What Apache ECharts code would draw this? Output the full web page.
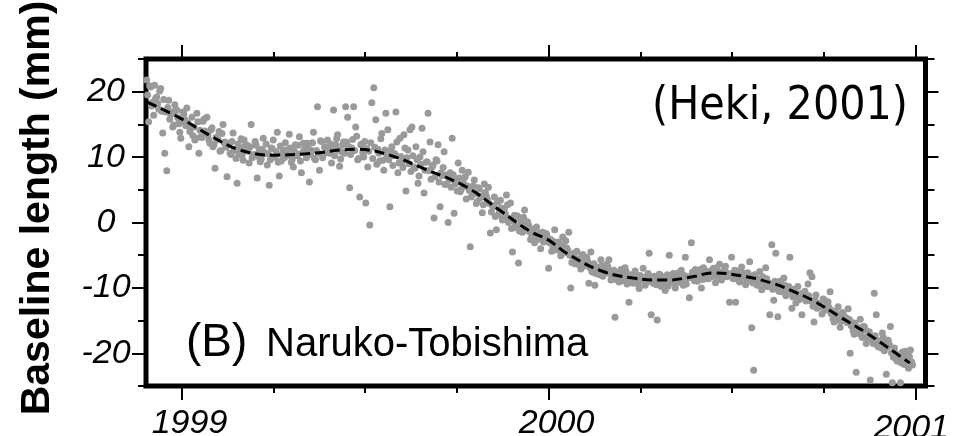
<!DOCTYPE html>
<html>
<head>
<meta charset="utf-8">
<script src="https://cdn.jsdelivr.net/npm/echarts@6/dist/echarts.min.js"></script>
<style>
  html, body { margin: 0; padding: 0; background: #fff; }
  #chart { width: 961px; height: 436px; }
</style>
</head>
<body>
<div id="chart"></div>
<script>
// daily solutions from late Nov 1998 (decimal years); even and odd days kept apart
const obsStart = 1998.905;
const obsEven = [
  21.8, 15.4, 20.7, 18.4, 21.0, 19.2, 17.3, 20.5, 13.7, 10.6,
  7.9, 18.7, 16.5, 14.6, 18.0, 17.2, 15.1, 12.9, 16.9, 15.7,
  17.5, 11.6, 14.4, 13.3, 12.6, 16.7, 10.6, 13.1, 15.5, 14.0,
  16.1, 12.6, 14.2, 11.6, 8.3, 12.6, 13.9, 11.0, 15.0, 12.3,
  7.0, 12.1, 10.4, 13.7, 11.0, 6.0, 10.6, 12.8, 9.5, 11.7,
  11.8, 9.1, 15.0, 10.3, 12.4, 6.8, 11.1, 9.7, 12.9, 10.5,
  8.8, 5.7, 11.4, 12.6, 10.0, 13.8, 7.1, 9.4, 11.0, 12.2,
  10.8, 13.5, 9.2, 8.5, 11.9, 10.2, 13.1, 7.6, 12.1, 10.6,
  12.1, 6.2, 11.0, 13.8, 9.6, 17.7, 8.0, 12.4, 10.4, 11.6,
  12.6, 10.6, 9.1, 17.2, 11.9, 13.4, 8.6, 10.8, 12.3, 17.7,
  16.1, 5.3, 11.4, 17.7, 14.6, 9.6, 3.9, 12.0, 10.0, 3.0,
  8.5, -0.4, 18.3, 20.6, 15.7, 11.2, 9.4, 13.6, 8.0, 16.7,
  14.2, 2.4, 11.6, 10.2, 16.9, 7.6, 12.9, 9.1, 13.4, 4.8,
  11.1, 14.2, 14.6, 8.5, 11.6, 6.0, 10.0, 14.4, 4.5, 9.2,
  16.7, 12.3, 8.5, 0.7, 9.6, 11.9, 2.4, 7.2, 10.8, 5.9,
  0.0, 7.6, 12.9, 1.4, 6.4, 9.1, 4.7, 8.0, 5.5, 3.6,
  7.7, -3.7, 4.6, 6.5, 2.9, 5.3, 3.8, 1.5, 5.9, 4.0,
  5.4, -1.6, 2.6, 3.9, -1.1, 1.2, 3.4, 0.4, 2.1, 4.2,
  0.0, 3.0, -4.5, 1.1, -0.8, -6.2, 0.5, -1.5, 1.9, -0.3,
  -0.4, -2.6, -1.2, -3.1, -0.7, -2.2, -4.0, -1.5, -2.9, -1.8,
  -7.0, -2.6, -3.5, -1.1, -4.2, -3.0, -5.1, -2.2, -4.6, -3.9,
  -1.5, -10.0, -5.2, -6.3, -4.4, -5.9, -7.1, -4.9, -6.0, -5.4,
  -9.3, -4.5, -7.6, -9.6, -6.8, -7.9, -5.7, -8.2, -7.0, -6.4,
  -5.7, -8.8, -7.5, -14.5, -8.3, -9.1, -7.2, -8.6, -6.9, -9.4,
  -12.2, -8.0, -9.3, -7.4, -8.8, -10.1, -8.5, -7.0, -9.6, -8.2,
  -4.7, -14.1, -9.3, -8.6, -14.9, -7.9, -9.8, -8.4, -10.4, -8.0,
  -5.0, -8.9, -7.8, -10.0, -9.2, -8.1, -7.3, -9.6, -5.3, -8.5,
  -11.5, -3.1, -8.4, -7.2, -9.0, -7.7, -10.0, -6.9, -8.6, -7.5,
  -5.7, -8.3, -7.0, -9.2, -7.5, -6.4, -8.8, -7.9, -6.7, -8.1,
  -12.2, -5.3, -8.6, -12.2, -7.4, -9.1, -6.8, -8.0, -9.5, -7.7,
  -6.0, -16.1, -22.6, -8.4, -9.6, -7.5, -10.3, -8.9, -6.9, -9.8,
  -14.1, -3.4, -11.9, -4.7, -14.4, -9.0, -10.6, -8.5, -11.2, -9.9,
  -5.3, -13.1, -10.2, -12.3, -9.8, -11.6, -14.1, -10.7, -12.0, -9.4,
  -7.7, -8.3, -15.2, -11.1, -13.0, -12.4, -14.0, -11.8, -13.3, -12.1,
  -10.6, -13.5, -15.2, -14.1, -12.9, -16.0, -13.8, -15.0, -14.6, -13.2,
  -20.0, -15.3, -17.1, -22.9, -16.5, -14.8, -17.6, -15.9, -18.5, -16.8,
  -24.1, -17.4, -10.8, -14.1, -19.0, -18.3, -16.9, -19.6, -23.2, -18.0,
  -15.9, -24.5, -19.2, -21.0, -20.4, -24.5, -19.8, -21.7, -20.1, -22.3,
  -19.5, -21.8
];
const obsOdd = [
  19.5, 20.9, 17.8, 16.4, 19.0, 18.2, 20.1, 17.0, 18.8, 16.9,
  17.6, 15.8, 16.9, 14.9, 17.1, 16.0, 13.8, 15.4, 16.6, 14.8,
  15.2, 13.9, 16.1, 14.6, 12.9, 15.4, 14.1, 13.0, 15.8, 13.6,
  13.4, 12.1, 14.5, 11.9, 13.0, 12.7, 10.9, 13.6, 12.2, 11.5,
  11.9, 10.6, 12.4, 11.2, 9.8, 12.0, 11.4, 10.3, 12.6, 11.0,
  10.9, 11.6, 9.9, 10.4, 11.8, 10.1, 9.3, 11.2, 10.7, 12.0,
  10.5, 9.6, 11.3, 10.0, 10.8, 9.2, 11.7, 10.4, 9.9, 11.1,
  10.2, 11.4, 9.7, 10.9, 10.5, 11.8, 9.4, 10.7, 11.2, 9.9,
  11.3, 10.4, 12.2, 9.8, 11.0, 10.6, 12.5, 9.9, 11.5, 10.8,
  10.9, 12.0, 11.4, 10.2, 12.8, 11.1, 9.7, 11.9, 10.6, 12.3,
  11.6, 10.4, 12.7, 11.0, 13.2, 9.8, 11.9, 10.7, 12.4, 11.3,
  10.9, 12.2, 9.8, 11.5, 8.9, 10.6, 12.8, 9.5, 11.1, 10.2,
  9.6, 11.0, 8.7, 10.5, 12.3, 9.1, 10.1, 8.4, 11.4, 9.9,
  9.0, 7.8, 10.2, 8.3, 9.6, 7.1, 8.9, 10.8, 8.0, 9.3,
  7.9, 6.6, 8.8, 7.0, 9.4, 6.2, 7.6, 8.4, 5.8, 7.3,
  6.5, 5.4, 7.3, 5.9, 4.8, 6.8, 5.1, 6.2, 7.0, 5.6,
  4.9, 3.9, 5.6, 4.4, 3.2, 5.1, 4.0, 2.7, 4.6, 3.5,
  2.9, 1.6, 2.4, 0.9, 3.1, 1.8, 2.2, 0.6, 1.3, 2.7,
  0.6, -0.9, 0.3, -0.4, 1.0, -1.3, -0.2, 0.8, -0.7, 0.1,
  -1.4, -2.3, -1.0, -2.0, -2.6, -1.6, -2.1, -3.0, -1.7, -2.4,
  -3.1, -4.4, -2.9, -3.6, -4.0, -3.3, -4.8, -3.7, -2.8, -4.2,
  -5.0, -6.1, -4.7, -5.5, -6.4, -5.8, -5.1, -6.7, -5.3, -6.0,
  -6.9, -7.5, -6.3, -7.8, -7.1, -8.0, -6.6, -7.4, -7.7, -6.8,
  -7.8, -8.4, -7.3, -8.7, -8.0, -7.6, -8.9, -8.2, -7.5, -8.5,
  -8.3, -9.0, -7.9, -8.7, -9.4, -8.1, -8.8, -8.4, -9.2, -7.8,
  -8.5, -9.1, -8.2, -9.5, -8.7, -8.0, -9.3, -8.9, -8.4, -9.7,
  -8.8, -8.0, -9.2, -8.4, -7.7, -9.0, -8.6, -8.1, -9.4, -8.3,
  -8.4, -7.6, -8.9, -7.9, -8.3, -7.2, -8.7, -8.0, -7.5, -8.6,
  -7.4, -8.2, -7.7, -6.9, -8.5, -7.6, -8.0, -7.1, -8.3, -7.8,
  -7.9, -8.5, -7.3, -8.2, -8.8, -7.6, -8.4, -7.8, -8.9, -8.0,
  -8.5, -9.2, -8.0, -9.5, -8.7, -9.0, -8.3, -9.8, -8.6, -9.3,
  -9.4, -10.2, -9.0, -9.9, -10.5, -9.3, -10.0, -9.6, -10.8, -9.8,
  -10.6, -11.4, -10.3, -11.1, -11.8, -10.9, -11.5, -10.5, -11.7, -11.2,
  -12.0, -12.8, -11.9, -13.1, -12.4, -12.9, -11.7, -13.4, -12.6, -13.0,
  -13.9, -14.7, -13.6, -14.9, -14.2, -15.1, -13.8, -14.5, -15.3, -14.8,
  -15.8, -16.6, -15.4, -16.9, -16.1, -17.2, -15.9, -16.4, -17.5, -16.7,
  -17.8, -18.5, -17.3, -18.8, -18.1, -19.2, -17.6, -18.4, -19.0, -18.7,
  -19.9, -20.6, -20.0, -21.2, -20.3, -21.5, -20.8, -19.7, -21.0, -20.5,
  -21.3
];

// fitted curve
const trendYears = [1998.907, 1998.995, 1999.084, 1999.158, 1999.248, 1999.341, 1999.477, 1999.567,
  1999.657, 1999.777, 1999.866, 1999.948, 2000.0, 2000.049, 2000.139, 2000.229, 2000.322, 2000.392,
  2000.447, 2000.540, 2000.610, 2000.657, 2000.719, 2000.793, 2000.866, 2000.921, 2000.984];
const trendValues = [18.4, 16.0, 13.1, 11.1, 10.3, 10.5, 11.2, 10.3, 8.3, 5.4, 1.9, -1.3, -2.7,
  -4.7, -7.3, -8.5, -8.8, -8.3, -7.7, -8.3, -9.3, -10.3, -11.9, -14.4, -16.9, -19.0, -21.5];

const yearTicks = [1999, 2000, 2001];
const quarterTicks = [1999.25, 1999.5, 1999.75, 2000.25, 2000.5, 2000.75];
const yLabelTicks = [-20, -10, 0, 10, 20];
const yMinorTicks = [-25, -15, -5, 5, 15, 25];

const xMin = 1998.9033, xMax = 2001.0267;
const font = "'Liberation Sans', Arial, sans-serif";

const obsData = [];
obsEven.forEach((v, i) => obsData.push([obsStart + (2 * i) / 365.25, v]));
obsOdd.forEach((v, i) => obsData.push([obsStart + (2 * i + 1) / 365.25, v]));
const trendData = trendYears.map((t, i) => [t, trendValues[i]]);

const labelFont = { fontFamily: font, fontStyle: "italic", fontSize: 34, color: "#000" };

function xAx(pos, ticks, len, withLabels) {
  return {
    type: "value", position: pos, min: xMin, max: xMax,
    axisLine: { show: false, onZero: false }, splitLine: { show: false },
    axisTick: { show: true, inside: false, length: len, customValues: ticks,
      lineStyle: { color: "#000", width: 2 } },
    axisLabel: withLabels ? {
      show: true, customValues: ticks, margin: 21, ...labelFont,
      // the last year label sits a little left and lower in the original
      formatter: v => (Math.round(v) === 2001 ? "{last|2001}" : "{yr|" + Math.round(v) + "}"),
      rich: {
        yr: { ...labelFont, padding: [0, 0, 0, 16] },
        last: { ...labelFont, padding: [5, 9, 0, 0] }
      }
    } : { show: false }
  };
}
function yAx(pos, ticks, len, withLabels) {
  return {
    type: "value", position: pos, min: -25, max: 25,
    axisLine: { show: false, onZero: false }, splitLine: { show: false },
    axisTick: { show: true, inside: false, length: len, customValues: ticks,
      lineStyle: { color: "#000", width: 2 } },
    axisLabel: withLabels ? {
      show: true, customValues: ticks, margin: 40, align: "center", ...labelFont,
      formatter: v => String(v)
    } : { show: false }
  };
}

const chart = echarts.init(document.getElementById("chart"), null, { renderer: "canvas" });
chart.setOption({
  animation: false,
  backgroundColor: "#fff",
  grid: { left: 146, right: 35.5, top: 59, bottom: 50, show: true, outerBoundsMode: "none",
    containLabel: false, borderColor: "#000", borderWidth: 5, backgroundColor: "transparent" },
  xAxis: [
    xAx("bottom", yearTicks, 14, true),
    xAx("bottom", quarterTicks, 7, false),
    xAx("top", yearTicks, 14, false),
    xAx("top", quarterTicks, 7, false)
  ],
  yAxis: [
    yAx("left", yLabelTicks, 14, true),
    yAx("left", yMinorTicks, 8, false),
    yAx("right", yLabelTicks, 13, false),
    yAx("right", yMinorTicks, 9, false)
  ],
  graphic: [
    { type: "text", x: 38, y: 208, rotation: Math.PI / 2,
      style: { text: "Baseline length (mm)", fontFamily: font, fontWeight: "bold", fontSize: 41,
        fill: "#000", align: "center", verticalAlign: "middle" } },
    { type: "text", x: 908, y: 107,
      style: { text: "(Heki, 2001)", fontFamily: "'DejaVu Sans Condensed', 'DejaVu Sans', sans-serif",
        fontSize: 46, fill: "#000", align: "right", verticalAlign: "middle" } },
    { type: "text", x: 186, y: 343,
      style: { text: "(B)", fontFamily: font, fontSize: 46, fill: "#000", align: "left", verticalAlign: "middle" } },
    { type: "text", x: 266, y: 345,
      style: { text: "Naruko-Tobishima", fontFamily: font, fontSize: 40, fill: "#000", align: "left", verticalAlign: "middle" } }
  ],
  series: [
    {
      type: "scatter", xAxisIndex: 0, yAxisIndex: 0, data: obsData, symbolSize: 7, z: 2,
      itemStyle: { color: "#9a9a9a", opacity: 1 }
    },
    {
      type: "line", xAxisIndex: 0, yAxisIndex: 0, data: trendData, smooth: 0.4,
      showSymbol: false, z: 3,
      lineStyle: { color: "#000", width: 3, type: [10, 5] }
    }
  ]
});
</script>
</body>
</html>
